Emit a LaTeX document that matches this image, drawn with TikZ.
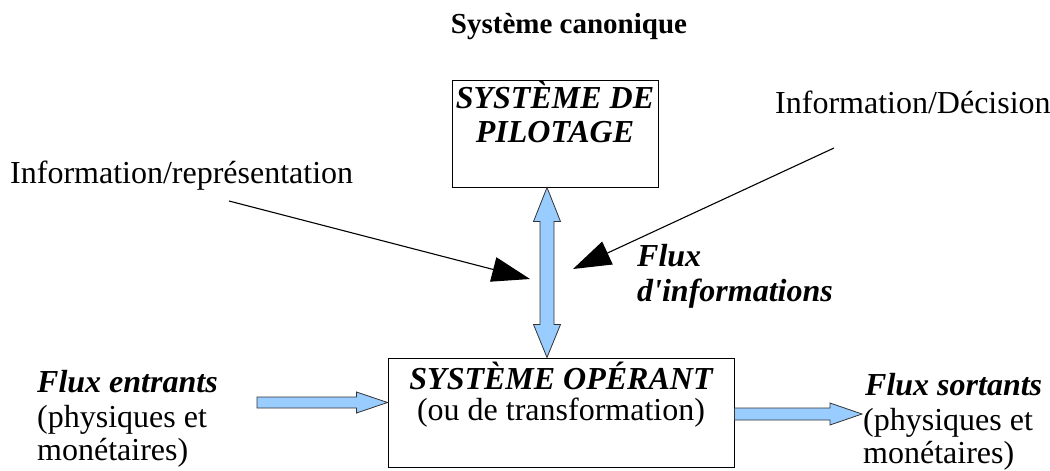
\documentclass[tikz,border=0pt]{standalone}
\usepackage{fontspec}
\setmainfont{Liberation Serif}
\newfontfamily\rawserif{Liberation Serif}
\usetikzlibrary{arrows.meta,calc}
\definecolor{flowblue}{HTML}{99CCFF}
\tikzset{
  txt/.style={anchor=base west,inner sep=0pt,font=\fontsize{32}{34}\selectfont},
  ctxt/.style={anchor=base,inner sep=0pt,font=\fontsize{32}{34}\selectfont},
  bi/.style={font=\fontsize{32}{34}\selectfont\bfseries\itshape},
  sysbox/.style={draw=black,line width=1pt,inner sep=0pt},
  infoline/.style={draw=black,line width=1.1pt,-{Triangle[length=38pt,width=25pt]}},
  blockarrow/.style={draw=black!80,line width=0.8pt,fill=flowblue,line join=miter},
}
\begin{document}
\begin{tikzpicture}[x=1pt,y=-1pt]
\useasboundingbox (0,0) rectangle (1050,471);
% title
\node[ctxt,font=\fontsize{29}{31}\selectfont\bfseries] (title) at (569,33) {Système canonique};
% boxes
\node[sysbox,minimum width=206pt,minimum height=107pt] (pil) at (555,133.5) {};
\node[ctxt,bi] (pil1) at (555,108) {SYSTÈME DE};
\node[ctxt,bi] (pil2) at (555,142) {PILOTAGE};
\node[sysbox,minimum width=346pt,minimum height=109pt] (op) at (561,412.5) {};
\node[ctxt,bi] (op1) at (561,389) {SYSTÈME OPÉRANT};
\node[ctxt] (op2) at (561,420) {(ou de transformation)};
% labels
\node[txt] (irep) at (10,183) {Information/représentation};
\node[txt] (idec) at (775,113) {Information/Décision};
\node[txt,bi] (fi1) at (637,266) {Flux};
\node[txt,bi] (fi2) at (637,301) {d{\rawserif\bfseries\itshape '}informations};
\node[txt,bi] (fe1) at (37,392) {Flux entrants};
\node[txt] (fe2) at (37,427) {(physiques et};
\node[txt] (fe3) at (37,460) {monétaires)};
\node[txt,bi] (fs1) at (865,395) {Flux sortants};
\node[txt] (fs2) at (863,430) {(physiques et};
\node[txt] (fs3) at (863,463) {monétaires)};
% information arrows
\coordinate (irs) at (229,201);
\coordinate (irt) at (530,279);
\coordinate (ids) at (834,148);
\coordinate (idt) at (573,269);
\draw[infoline] (irs) -- (irt);
\draw[infoline] (ids) -- (idt);
% double flux arrow between boxes
\coordinate (dT) at ($(pil.south)+(-8,0)$);
\coordinate (dB) at (dT |- op.north);
\draw[blockarrow] (dT) -- ($(dT)+(13.5,34)$) -- ($(dT)+(7,34)$) -- ($(dB)+(7,-33)$)
  -- ($(dB)+(13.5,-33)$) -- (dB) -- ($(dB)+(-13.5,-33)$) -- ($(dB)+(-7,-33)$)
  -- ($(dT)+(-7,34)$) -- ($(dT)+(-13.5,34)$) -- cycle;
% incoming flux
\coordinate (inT) at (op.west |- 0,402.5);
\coordinate (inS) at (257,402.5);
\draw[blockarrow] ($(inS)+(0,-5.5)$) -- ($(inT)+(-31,-5.5)$) -- ($(inT)+(-31,-10.5)$) -- (inT)
  -- ($(inT)+(-31,10.5)$) -- ($(inT)+(-31,5.5)$) -- ($(inS)+(0,5.5)$) -- cycle;
% outgoing flux
\coordinate (outS) at (op.east |- 0,414);
\coordinate (outT) at (862,414);
\draw[blockarrow] ($(outS)+(0,-6)$) -- ($(outT)+(-32,-6)$) -- ($(outT)+(-32,-11)$) -- (outT)
  -- ($(outT)+(-32,11)$) -- ($(outT)+(-32,6)$) -- ($(outS)+(0,6)$) -- cycle;
\end{tikzpicture}
\end{document}
